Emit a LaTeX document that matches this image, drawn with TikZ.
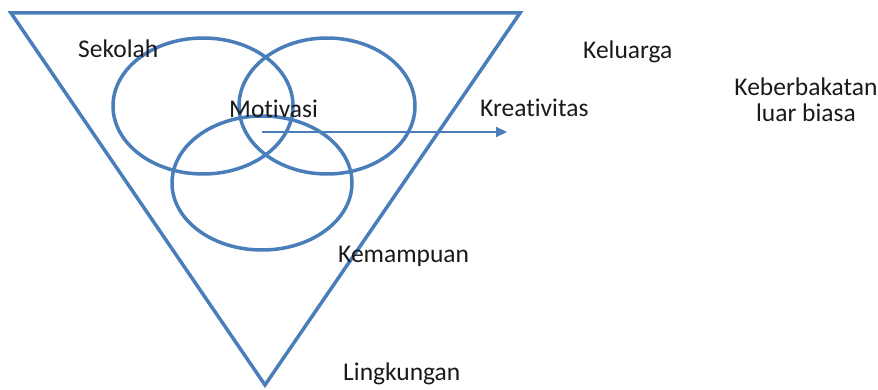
\documentclass[tikz,border=0pt]{standalone}
\usepackage{fontspec}
\setmainfont[RawFeature={-liga;-clig;-dlig}]{Carlito}
\usetikzlibrary{arrows.meta}
\definecolor{ofblue}{HTML}{4A7EBB}
\definecolor{txt}{HTML}{1A1A1A}
\tikzset{
  shapeline/.style={draw=ofblue, line width=3.5pt},
  lbl/.style={anchor=base west, inner sep=0pt, text=txt, font=\fontsize{25.5}{26}\selectfont},
}
\begin{document}
\begin{tikzpicture}[x=1pt,y=-1pt]
\useasboundingbox (0,0) rectangle (878,390);
% triangle
\coordinate (tl) at (11,13);
\coordinate (tr) at (520,13);
\coordinate (bt) at (265,385);
\draw[shapeline, line join=miter] (tl) -- (tr) -- (bt) -- cycle;
% ellipses
\draw[shapeline] (203,106) ellipse [x radius=90, y radius=68];
\draw[shapeline] (327,106) ellipse [x radius=88, y radius=68];
\draw[shapeline] (262,183) ellipse [x radius=90, y radius=67];
% labels
\node[lbl] (sek) at (78,58) {Sekolah};
\node[lbl] (mot) at (229,118) {Motivasi};
\node[lbl] (kre) at (480,117) {Kreativitas};
\node[lbl] (kel) at (583,59) {Keluarga};
\node[lbl, anchor=base, align=center] (keb) at (806,122) {Keberbakatan\\luar biasa};
\node[lbl] (kem) at (338,262) {Kemampuan};
\node[lbl] (lin) at (343,380) {Lingkungan};
% arrow
\coordinate (as) at (262,132);
\coordinate (ae) at (507,132);
\draw[draw=ofblue, line width=2.2pt, -{Triangle[length=11pt,width=10pt]}] (as) -- (ae);
\end{tikzpicture}
\end{document}
